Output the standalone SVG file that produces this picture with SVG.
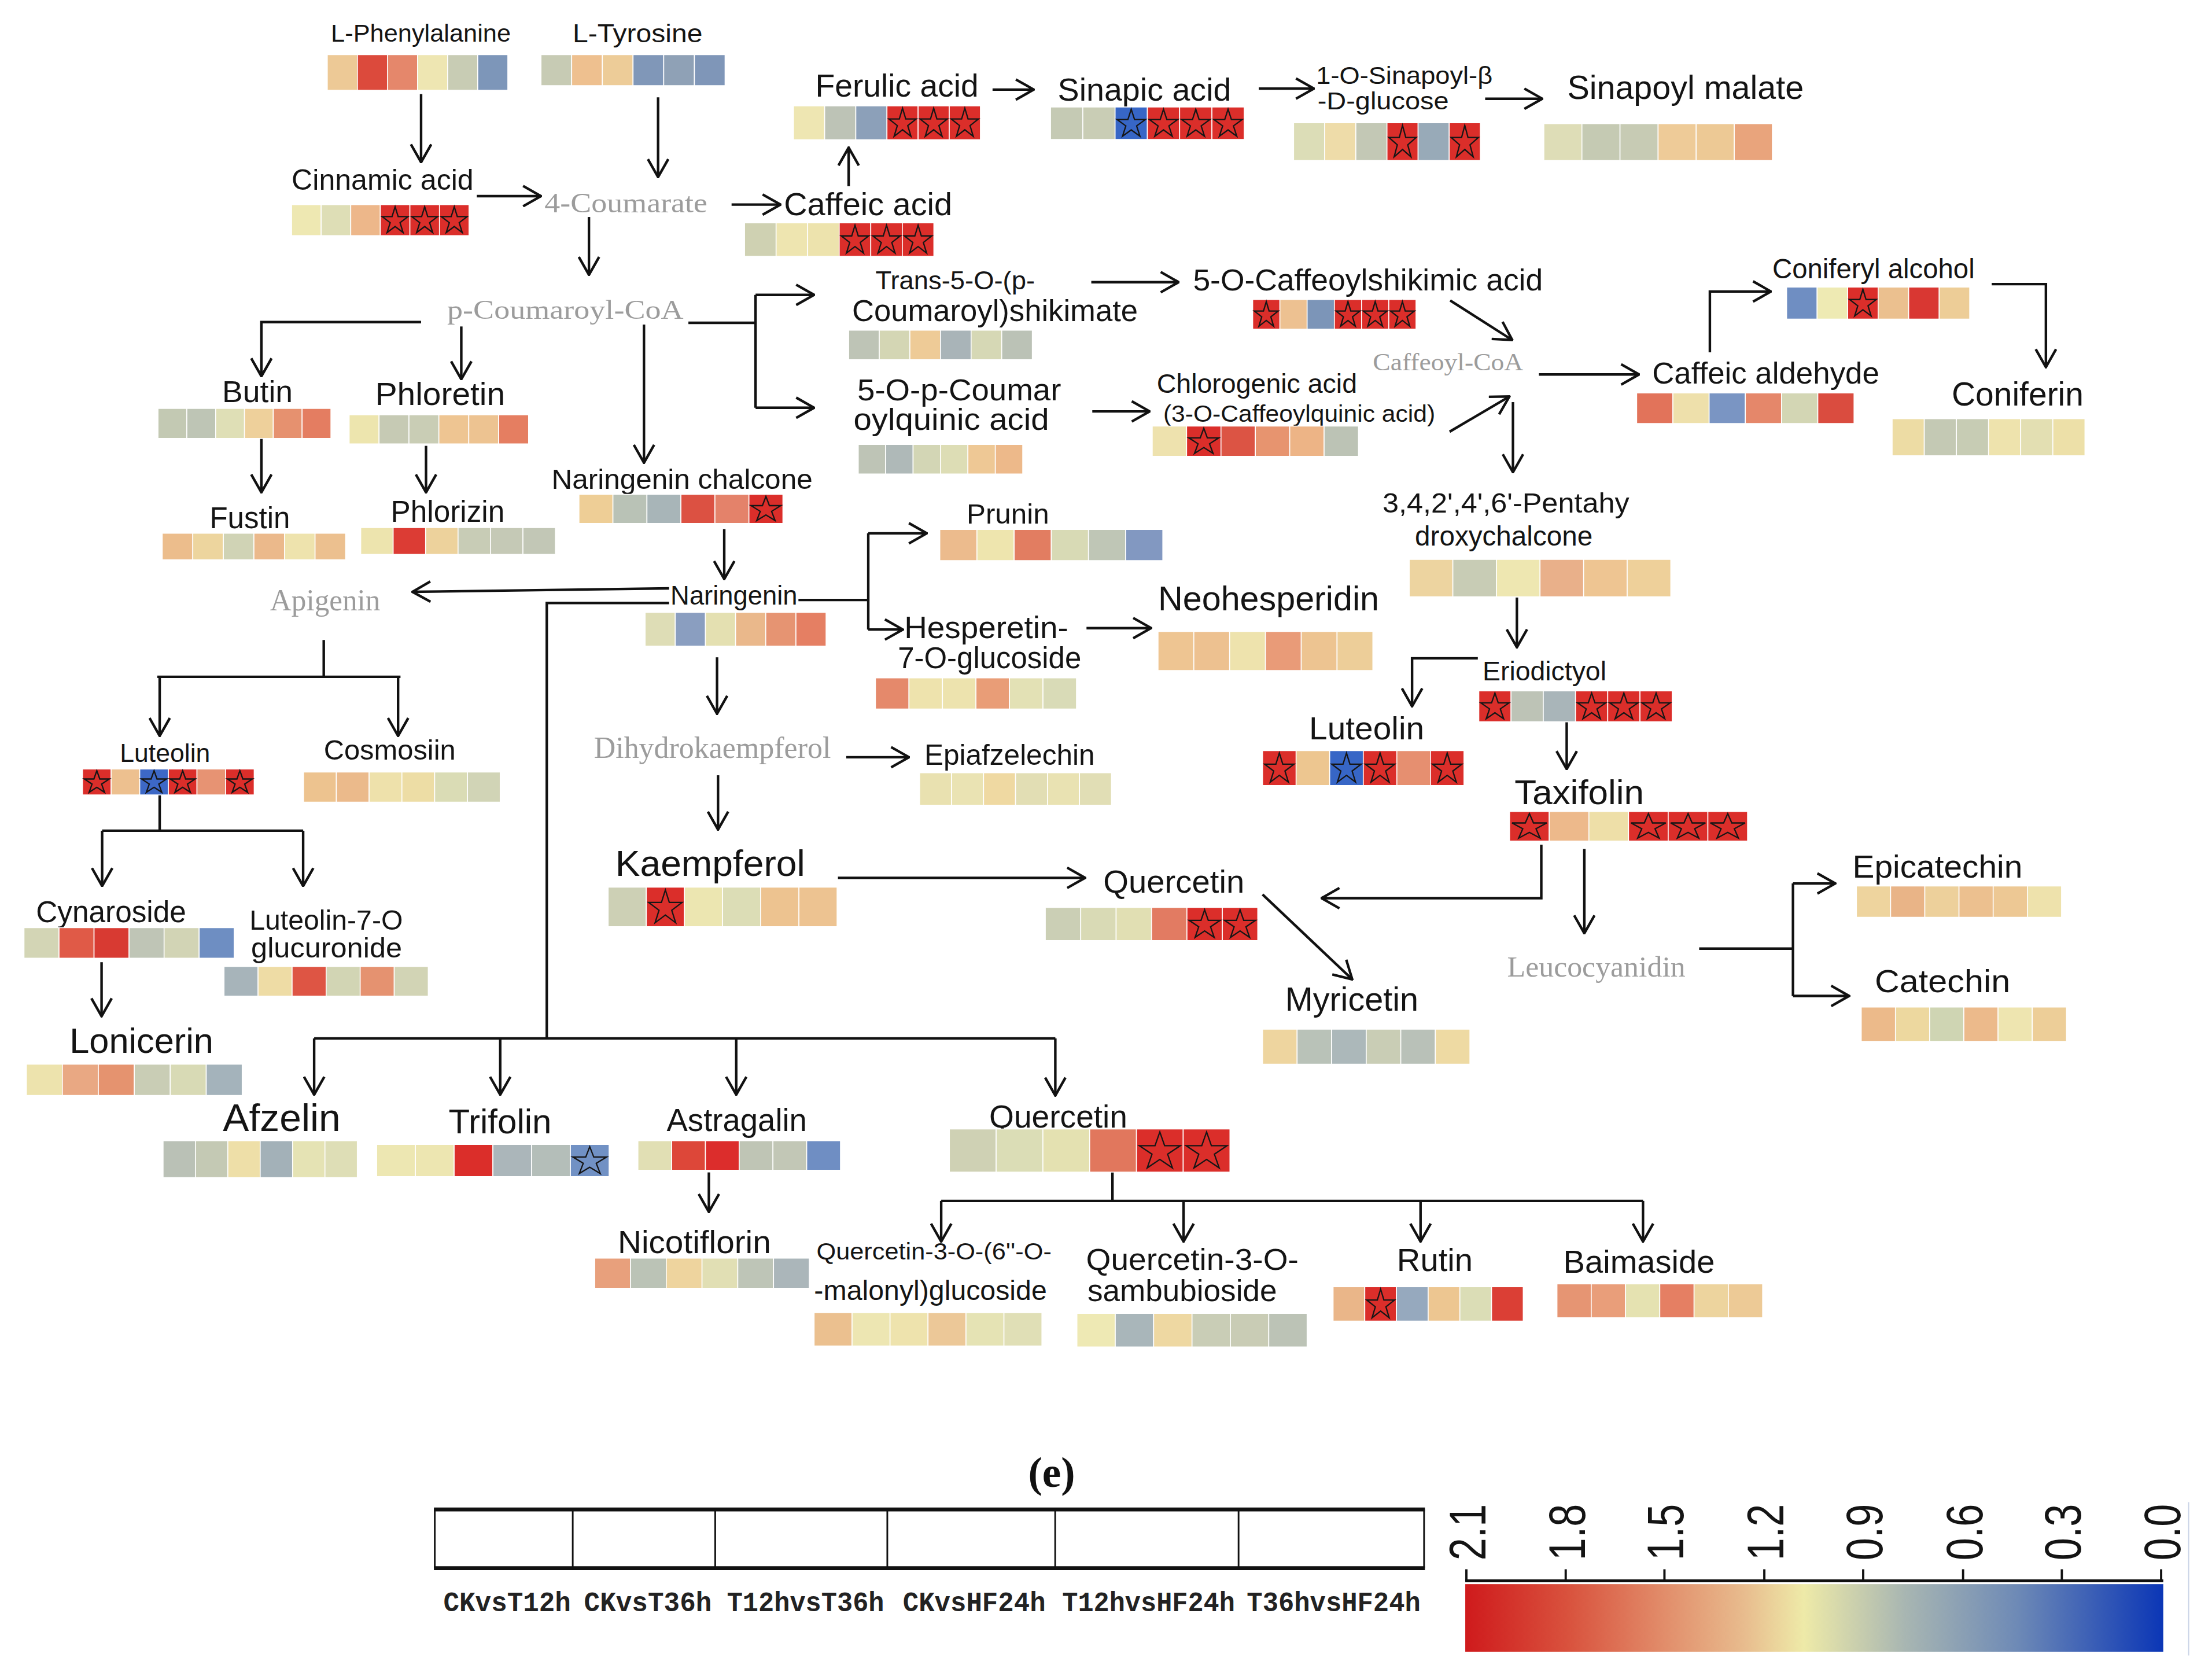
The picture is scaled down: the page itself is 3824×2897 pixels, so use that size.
<svg xmlns="http://www.w3.org/2000/svg" width="3824" height="2897" viewBox="0 0 3824 2897">
<style>
.t{font-family:"Liberation Sans",Arial,Helvetica,sans-serif;fill:#141414}
.g{font-family:"Liberation Serif","Times New Roman",serif;fill:#9c9c9c}
.m{font-family:"Liberation Mono","Courier New",monospace;font-weight:bold;fill:#222}
.hm rect{stroke:#fff;stroke-width:1.6;vector-effect:non-scaling-stroke}
</style>
<defs>
<marker id="ah" markerUnits="userSpaceOnUse" viewBox="0 0 14 16" markerWidth="14" markerHeight="16" refX="13.2" refY="8" orient="auto"><path d="M0.5,0.8 L13.2,8 L0.5,15.2" fill="none" stroke="#111" stroke-width="1.8"/></marker>
<path id="st" d="M5,0.7 L6.03,3.88 L9.37,3.88 L6.67,5.84 L7.7,9.02 L5,7.06 L2.3,9.02 L3.33,5.84 L0.63,3.88 L3.97,3.88 Z" fill="none" stroke="#161616" stroke-width="2.3" vector-effect="non-scaling-stroke"/>
<linearGradient id="cb" x1="0" y1="0" x2="1" y2="0">
<stop offset="0" stop-color="#CF1A1C"/><stop offset="0.15" stop-color="#D9533E"/><stop offset="0.29" stop-color="#E28F6C"/><stop offset="0.40" stop-color="#E8BC8E"/><stop offset="0.485" stop-color="#EEEAA8"/><stop offset="0.63" stop-color="#A8B6B2"/><stop offset="0.79" stop-color="#6E8AB6"/><stop offset="1" stop-color="#0B36B6"/>
</linearGradient>
</defs>
<rect width="3824" height="2897" fill="#fff"/>
<g transform="scale(2.4387)">

<g id="connectors" fill="none" stroke="#111" stroke-width="1.8">
<path d="M298.5,66.7 V115" marker-end="url(#ah)"/>
<path d="M466.5,69 V125.5" marker-end="url(#ah)"/>
<path d="M338,139 H383.5" marker-end="url(#ah)"/>
<path d="M417.5,153.8 V194.8" marker-end="url(#ah)"/>
<path d="M518.6,145 H553.3" marker-end="url(#ah)"/>
<path d="M601.6,132 V104.6" marker-end="url(#ah)"/>
<path d="M703.6,63.5 H732.8" marker-end="url(#ah)"/>
<path d="M892.3,62.8 H931.4" marker-end="url(#ah)"/>
<path d="M1052.8,70 H1093.3" marker-end="url(#ah)"/>
<path d="M298.5,228.3 H185.3 V266.7" marker-end="url(#ah)"/>
<path d="M327,231.4 V268.8" marker-end="url(#ah)"/>
<path d="M456.5,230 V328" marker-end="url(#ah)"/>
<path d="M488,228.8 H535.6 M535.6,209 V289"/>
<path d="M535.6,209 H577.1" marker-end="url(#ah)"/>
<path d="M535.6,289 H577.1" marker-end="url(#ah)"/>
<path d="M185.3,311 V349" marker-end="url(#ah)"/>
<path d="M302,316 V349" marker-end="url(#ah)"/>
<path d="M773.6,200 H835.5" marker-end="url(#ah)"/>
<path d="M774.3,291.6 H815" marker-end="url(#ah)"/>
<path d="M1028,213 L1072,241" marker-end="url(#ah)"/>
<path d="M1027.6,306 L1070,281" marker-end="url(#ah)"/>
<path d="M1090.9,265.4 H1161.9" marker-end="url(#ah)"/>
<path d="M1072.5,285 V334.7" marker-end="url(#ah)"/>
<path d="M1212.1,249.7 V206.6 H1255.4" marker-end="url(#ah)"/>
<path d="M1411.9,201.4 H1450.3 V260.2" marker-end="url(#ah)"/>
<path d="M513.4,375 V410.4" marker-end="url(#ah)"/>
<path d="M474.3,417 L292.4,419.5" marker-end="url(#ah)"/>
<path d="M474.3,427.4 H387.6 V736 M222.7,736 H748.1"/>
<path d="M222.7,736 V775.9" marker-end="url(#ah)"/>
<path d="M354.6,736 V775.9" marker-end="url(#ah)"/>
<path d="M521.9,736 V775.9" marker-end="url(#ah)"/>
<path d="M748.1,736 V776.5" marker-end="url(#ah)"/>
<path d="M566,425.3 H615.5 M615.5,378 V446.2"/>
<path d="M615.5,378 H657" marker-end="url(#ah)"/>
<path d="M615.5,446.2 H640" marker-end="url(#ah)"/>
<path d="M770.2,445.2 H816" marker-end="url(#ah)"/>
<path d="M508.3,465.9 V505.9" marker-end="url(#ah)"/>
<path d="M599.9,536.7 H644.4" marker-end="url(#ah)"/>
<path d="M509,549.5 V588" marker-end="url(#ah)"/>
<path d="M594,622.2 H769.2" marker-end="url(#ah)"/>
<path d="M895,634 L958.6,694.2" marker-end="url(#ah)"/>
<path d="M229.5,453.6 V479.7 M111.5,479.7 H283.9"/>
<path d="M113.2,479.7 V521.6" marker-end="url(#ah)"/>
<path d="M282.2,479.7 V521.6" marker-end="url(#ah)"/>
<path d="M113.2,563.4 V588.8 M72.4,588.8 H214.9"/>
<path d="M72.4,588.8 V628" marker-end="url(#ah)"/>
<path d="M214.9,588.8 V628" marker-end="url(#ah)"/>
<path d="M72,682 V720.3" marker-end="url(#ah)"/>
<path d="M1075.3,423.5 V458.8" marker-end="url(#ah)"/>
<path d="M1047.6,466.6 H1001 V500.6" marker-end="url(#ah)"/>
<path d="M1110.6,511.6 V545.1" marker-end="url(#ah)"/>
<path d="M1092.6,598.7 V636.6 H936.8" marker-end="url(#ah)"/>
<path d="M1123.1,601.8 V661.5" marker-end="url(#ah)"/>
<path d="M1204.5,672.4 H1271 M1271,626.2 V706"/>
<path d="M1271,626.2 H1301" marker-end="url(#ah)"/>
<path d="M1271,705.9 H1310.8" marker-end="url(#ah)"/>
<path d="M502.5,831 V859" marker-end="url(#ah)"/>
<path d="M788.6,830.8 V851.2 M667.2,851.2 H1164.7"/>
<path d="M667.2,851.2 V880" marker-end="url(#ah)"/>
<path d="M839,851.2 V880" marker-end="url(#ah)"/>
<path d="M1007,851.2 V880" marker-end="url(#ah)"/>
<path d="M1164.7,851.2 V880" marker-end="url(#ah)"/>
</g>

<g id="n-lphe"><text class="t" x="234.6" y="29.6" font-size="17.8" textLength="127.5" lengthAdjust="spacingAndGlyphs">L-Phenylalanine</text>
<g class="hm" transform="translate(232 38.7) scale(2.1333 2.53)"><rect x="0" width="10" height="10" fill="#EDC996"/><rect x="10" width="10" height="10" fill="#DC4A3C"/><rect x="20" width="10" height="10" fill="#E5876B"/><rect x="30" width="10" height="10" fill="#EEE6B2"/><rect x="40" width="10" height="10" fill="#C8CCB4"/><rect x="50" width="10" height="10" fill="#7D96B9"/></g></g>

<g id="n-ltyr"><text class="t" x="406" y="30" font-size="18.5" textLength="92" lengthAdjust="spacingAndGlyphs">L-Tyrosine</text>
<g class="hm" transform="translate(383.5 38.7) scale(2.175 2.2)"><rect x="0" width="10" height="10" fill="#C7CBB4"/><rect x="10" width="10" height="10" fill="#EEC08F"/><rect x="20" width="10" height="10" fill="#EDCC98"/><rect x="30" width="10" height="10" fill="#8097B8"/><rect x="40" width="10" height="10" fill="#8FA1B6"/><rect x="50" width="10" height="10" fill="#7F96B8"/></g></g>

<g id="n-cinnamic"><text class="t" x="206.7" y="134.7" font-size="20.5" textLength="129" lengthAdjust="spacingAndGlyphs">Cinnamic acid</text>
<g class="hm" transform="translate(206.7 145) scale(2.0967 2.2)"><rect x="0" width="10" height="10" fill="#EEE8B2"/><rect x="10" width="10" height="10" fill="#DEDEB6"/><rect x="20" width="10" height="10" fill="#EDB78A"/><rect x="30" width="10" height="10" fill="#DB2E2A"/><rect x="40" width="10" height="10" fill="#DB2E2A"/><rect x="50" width="10" height="10" fill="#DB2E2A"/><use href="#st" x="30"/><use href="#st" x="40"/><use href="#st" x="50"/></g></g>

<g id="n-4coumarate"><text class="g" x="386" y="150.4" font-size="20" textLength="115.5" lengthAdjust="spacingAndGlyphs">4-Coumarate</text></g>

<g id="n-ferulic"><text class="t" x="578" y="68.5" font-size="22.5" textLength="115.7" lengthAdjust="spacingAndGlyphs">Ferulic acid</text>
<g class="hm" transform="translate(562.5 75) scale(2.2083 2.4)"><rect x="0" width="10" height="10" fill="#EEE6B2"/><rect x="10" width="10" height="10" fill="#BDC3B6"/><rect x="20" width="10" height="10" fill="#8CA0B9"/><rect x="30" width="10" height="10" fill="#DB2E2A"/><rect x="40" width="10" height="10" fill="#DB2E2A"/><rect x="50" width="10" height="10" fill="#DB2E2A"/><use href="#st" x="30"/><use href="#st" x="40"/><use href="#st" x="50"/></g></g>

<g id="n-sinapic"><text class="t" x="749.8" y="71.4" font-size="22.5" textLength="123" lengthAdjust="spacingAndGlyphs">Sinapic acid</text>
<g class="hm" transform="translate(744.7 75.8) scale(2.2883 2.3)"><rect x="0" width="10" height="10" fill="#C5CAB4"/><rect x="10" width="10" height="10" fill="#C9CDB5"/><rect x="20" width="10" height="10" fill="#3766C6"/><rect x="30" width="10" height="10" fill="#DB2E2A"/><rect x="40" width="10" height="10" fill="#DB2E2A"/><rect x="50" width="10" height="10" fill="#DB2E2A"/><use href="#st" x="20"/><use href="#st" x="30"/><use href="#st" x="40"/><use href="#st" x="50"/></g></g>

<g id="n-sinapoylglucose"><text class="t" x="933" y="59.5" font-size="17.5" textLength="125" lengthAdjust="spacingAndGlyphs">1-O-Sinapoyl-β</text><text class="t" x="934" y="77.5" font-size="17.5" textLength="93" lengthAdjust="spacingAndGlyphs">-D-glucose</text>
<g class="hm" transform="translate(917 87) scale(2.2067 2.68)"><rect x="0" width="10" height="10" fill="#DCDDB7"/><rect x="10" width="10" height="10" fill="#EEDCA9"/><rect x="20" width="10" height="10" fill="#C3C8B5"/><rect x="30" width="10" height="10" fill="#DB2E2A"/><rect x="40" width="10" height="10" fill="#98AAB8"/><rect x="50" width="10" height="10" fill="#DB2E2A"/><use href="#st" x="30"/><use href="#st" x="50"/></g></g>

<g id="n-sinapoylmalate"><text class="t" x="1111" y="70" font-size="23.5" textLength="167.6" lengthAdjust="spacingAndGlyphs">Sinapoyl malate</text>
<g class="hm" transform="translate(1094.4 87.6) scale(2.7 2.62)"><rect x="0" width="10" height="10" fill="#DEDDB7"/><rect x="10" width="10" height="10" fill="#C5CAB3"/><rect x="20" width="10" height="10" fill="#C7CBB4"/><rect x="30" width="10" height="10" fill="#EECB98"/><rect x="40" width="10" height="10" fill="#EDC995"/><rect x="50" width="10" height="10" fill="#E9A47C"/></g></g>

<g id="n-caffeic"><text class="t" x="555.7" y="152.6" font-size="22.5" textLength="119.3" lengthAdjust="spacingAndGlyphs">Caffeic acid</text>
<g class="hm" transform="translate(527.8 158) scale(2.2367 2.37)"><rect x="0" width="10" height="10" fill="#CFD1B2"/><rect x="10" width="10" height="10" fill="#EEE5B0"/><rect x="20" width="10" height="10" fill="#EDE3AD"/><rect x="30" width="10" height="10" fill="#DB2E2A"/><rect x="40" width="10" height="10" fill="#DB2E2A"/><rect x="50" width="10" height="10" fill="#DB2E2A"/><use href="#st" x="30"/><use href="#st" x="40"/><use href="#st" x="50"/></g></g>

<g id="n-pcoumaroylcoa"><text class="g" x="317" y="226" font-size="19" textLength="167.5" lengthAdjust="spacingAndGlyphs">p-Coumaroyl-CoA</text></g>

<g id="n-trans5o"><text class="t" x="620.6" y="205" font-size="18.5" textLength="113" lengthAdjust="spacingAndGlyphs">Trans-5-O-(p-</text><text class="t" x="604" y="227.5" font-size="21" textLength="202.6" lengthAdjust="spacingAndGlyphs">Coumaroyl)shikimate</text>
<g class="hm" transform="translate(601.6 234) scale(2.17 2.1)"><rect x="0" width="10" height="10" fill="#BEC4B6"/><rect x="10" width="10" height="10" fill="#D4D6B4"/><rect x="20" width="10" height="10" fill="#EECB97"/><rect x="30" width="10" height="10" fill="#A9B4B8"/><rect x="40" width="10" height="10" fill="#D6D8B5"/><rect x="50" width="10" height="10" fill="#BBC2B6"/></g></g>

<g id="n-5opcoumaroylquinic"><text class="t" x="607.7" y="283.7" font-size="21" textLength="144.5" lengthAdjust="spacingAndGlyphs">5-O-p-Coumar</text><text class="t" x="605" y="304.6" font-size="21" textLength="138.7" lengthAdjust="spacingAndGlyphs">oylquinic acid</text>
<g class="hm" transform="translate(608.4 315) scale(1.9433 2.1)"><rect x="0" width="10" height="10" fill="#BEC4B6"/><rect x="10" width="10" height="10" fill="#AFB9B8"/><rect x="20" width="10" height="10" fill="#D3D6B5"/><rect x="30" width="10" height="10" fill="#DDDDB5"/><rect x="40" width="10" height="10" fill="#EEC895"/><rect x="50" width="10" height="10" fill="#EDB98A"/></g></g>

<g id="n-5ocaffeoylshikimic"><text class="t" x="845.7" y="206" font-size="21" textLength="248" lengthAdjust="spacingAndGlyphs">5-O-Caffeoylshikimic acid</text>
<g class="hm" transform="translate(888 212.3) scale(1.93 2.1)"><rect x="0" width="10" height="10" fill="#DB2E2A"/><rect x="10" width="10" height="10" fill="#EDC191"/><rect x="20" width="10" height="10" fill="#7C95B8"/><rect x="30" width="10" height="10" fill="#DB2E2A"/><rect x="40" width="10" height="10" fill="#DB2E2A"/><rect x="50" width="10" height="10" fill="#DB2E2A"/><use href="#st" x="0"/><use href="#st" x="30"/><use href="#st" x="40"/><use href="#st" x="50"/></g></g>

<g id="n-chlorogenic"><text class="t" x="820" y="278.5" font-size="19" textLength="142" lengthAdjust="spacingAndGlyphs">Chlorogenic acid</text><text class="t" x="824.6" y="299" font-size="16.5" textLength="192.8" lengthAdjust="spacingAndGlyphs">(3-O-Caffeoylquinic acid)</text>
<g class="hm" transform="translate(816.8 302) scale(2.4367 2.15)"><rect x="0" width="10" height="10" fill="#EEE2AE"/><rect x="10" width="10" height="10" fill="#DB2E2A"/><rect x="20" width="10" height="10" fill="#DC5444"/><rect x="30" width="10" height="10" fill="#E7946F"/><rect x="40" width="10" height="10" fill="#EDB486"/><rect x="50" width="10" height="10" fill="#BCC3B5"/><use href="#st" x="10"/></g></g>

<g id="n-caffeoylcoa"><text class="g" x="973.2" y="262.5" font-size="17" textLength="106.6" lengthAdjust="spacingAndGlyphs" fill="#a8a8a8">Caffeoyl-CoA</text></g>

<g id="n-caffeicaldehyde"><text class="t" x="1171.2" y="271.9" font-size="21.5" textLength="161" lengthAdjust="spacingAndGlyphs">Caffeic aldehyde</text>
<g class="hm" transform="translate(1160.2 278.5) scale(2.5683 2.17)"><rect x="0" width="10" height="10" fill="#E2735A"/><rect x="10" width="10" height="10" fill="#EEE0AB"/><rect x="20" width="10" height="10" fill="#7A95C3"/><rect x="30" width="10" height="10" fill="#E5876A"/><rect x="40" width="10" height="10" fill="#D3D6B4"/><rect x="50" width="10" height="10" fill="#DA4C3F"/></g></g>

<g id="n-coniferylalcohol"><text class="t" x="1256.4" y="197.4" font-size="19.4" textLength="143.4" lengthAdjust="spacingAndGlyphs">Coniferyl alcohol</text>
<g class="hm" transform="translate(1266.5 203.5) scale(2.1633 2.27)"><rect x="0" width="10" height="10" fill="#6F8EC2"/><rect x="10" width="10" height="10" fill="#EEEAB3"/><rect x="20" width="10" height="10" fill="#DB2E2A"/><rect x="30" width="10" height="10" fill="#EBC08F"/><rect x="40" width="10" height="10" fill="#D93732"/><rect x="50" width="10" height="10" fill="#EDCD97"/><use href="#st" x="20"/></g></g>

<g id="n-coniferin"><text class="t" x="1383.5" y="287.6" font-size="23.4" textLength="93.5" lengthAdjust="spacingAndGlyphs">Coniferin</text>
<g class="hm" transform="translate(1341.3 296.8) scale(2.2783 2.62)"><rect x="0" width="10" height="10" fill="#EDDCA4"/><rect x="10" width="10" height="10" fill="#C4C9B4"/><rect x="20" width="10" height="10" fill="#C7CCB4"/><rect x="30" width="10" height="10" fill="#EEE3AD"/><rect x="40" width="10" height="10" fill="#E3DFB2"/><rect x="50" width="10" height="10" fill="#EDE0A8"/></g></g>

<g id="n-pentahydroxychalcone"><text class="t" x="980" y="363.5" font-size="19.5" textLength="175" lengthAdjust="spacingAndGlyphs">3,4,2',4',6'-Pentahy</text><text class="t" x="1003" y="386.5" font-size="19.5" textLength="126" lengthAdjust="spacingAndGlyphs">droxychalcone</text>
<g class="hm" transform="translate(999 396.5) scale(3.09 2.65)"><rect x="0" width="10" height="10" fill="#EDD4A0"/><rect x="10" width="10" height="10" fill="#C8CCB5"/><rect x="20" width="10" height="10" fill="#EEE7B1"/><rect x="30" width="10" height="10" fill="#E9B08A"/><rect x="40" width="10" height="10" fill="#EEC592"/><rect x="50" width="10" height="10" fill="#EED09A"/></g></g>

<g id="n-eriodictyol"><text class="t" x="1051" y="482.3" font-size="19" textLength="87.7" lengthAdjust="spacingAndGlyphs">Eriodictyol</text>
<g class="hm" transform="translate(1048.3 489.7) scale(2.285 2.19)"><rect x="0" width="10" height="10" fill="#DB2E2A"/><rect x="10" width="10" height="10" fill="#BDC3B6"/><rect x="20" width="10" height="10" fill="#A9B5B9"/><rect x="30" width="10" height="10" fill="#DB2E2A"/><rect x="40" width="10" height="10" fill="#DB2E2A"/><rect x="50" width="10" height="10" fill="#DB2E2A"/><use href="#st" x="0"/><use href="#st" x="30"/><use href="#st" x="40"/><use href="#st" x="50"/></g></g>

<g id="n-luteolin2"><text class="t" x="928" y="524" font-size="23" textLength="81.6" lengthAdjust="spacingAndGlyphs">Luteolin</text>
<g class="hm" transform="translate(895 532) scale(2.38 2.48)"><rect x="0" width="10" height="10" fill="#DB2E2A"/><rect x="10" width="10" height="10" fill="#EDC690"/><rect x="20" width="10" height="10" fill="#3766C6"/><rect x="30" width="10" height="10" fill="#DB2E2A"/><rect x="40" width="10" height="10" fill="#E68F70"/><rect x="50" width="10" height="10" fill="#DB2E2A"/><use href="#st" x="0"/><use href="#st" x="20"/><use href="#st" x="30"/><use href="#st" x="50"/></g></g>

<g id="n-taxifolin"><text class="t" x="1073.6" y="569.9" font-size="24.5" textLength="91.8" lengthAdjust="spacingAndGlyphs">Taxifolin</text>
<g class="hm" transform="translate(1070.1 575.2) scale(2.8117 2.09)"><rect x="0" width="10" height="10" fill="#DB2E2A"/><rect x="10" width="10" height="10" fill="#EDB98B"/><rect x="20" width="10" height="10" fill="#EEDFA8"/><rect x="30" width="10" height="10" fill="#DB2E2A"/><rect x="40" width="10" height="10" fill="#DB2E2A"/><rect x="50" width="10" height="10" fill="#DB2E2A"/><use href="#st" x="0"/><use href="#st" x="30"/><use href="#st" x="40"/><use href="#st" x="50"/></g></g>

<g id="n-leucocyanidin"><text class="g" x="1068.4" y="692" font-size="21" textLength="126.4" lengthAdjust="spacingAndGlyphs">Leucocyanidin</text></g>

<g id="n-epicatechin"><text class="t" x="1313.2" y="622.2" font-size="23" textLength="120.5" lengthAdjust="spacingAndGlyphs">Epicatechin</text>
<g class="hm" transform="translate(1316 628) scale(2.4233 2.22)"><rect x="0" width="10" height="10" fill="#EED49E"/><rect x="10" width="10" height="10" fill="#E9B487"/><rect x="20" width="10" height="10" fill="#EDD09B"/><rect x="30" width="10" height="10" fill="#ECC08F"/><rect x="40" width="10" height="10" fill="#EDC894"/><rect x="50" width="10" height="10" fill="#EEE2AC"/></g></g>

<g id="n-catechin"><text class="t" x="1329" y="703.3" font-size="23" textLength="96" lengthAdjust="spacingAndGlyphs">Catechin</text>
<g class="hm" transform="translate(1319.4 713.8) scale(2.425 2.43)"><rect x="0" width="10" height="10" fill="#ECBA8A"/><rect x="10" width="10" height="10" fill="#EDD89F"/><rect x="20" width="10" height="10" fill="#CFD5B3"/><rect x="30" width="10" height="10" fill="#ECBA8B"/><rect x="40" width="10" height="10" fill="#EEE5B0"/><rect x="50" width="10" height="10" fill="#EDCE98"/></g></g>

<g id="n-butin"><text class="t" x="157.5" y="285" font-size="21.5" textLength="50" lengthAdjust="spacingAndGlyphs">Butin</text>
<g class="hm" transform="translate(112 289.5) scale(2.0433 2.12)"><rect x="0" width="10" height="10" fill="#C3C9B3"/><rect x="10" width="10" height="10" fill="#BEC5B5"/><rect x="20" width="10" height="10" fill="#DFDFB6"/><rect x="30" width="10" height="10" fill="#EED09B"/><rect x="40" width="10" height="10" fill="#E6916F"/><rect x="50" width="10" height="10" fill="#E47D61"/></g></g>

<g id="n-fustin"><text class="t" x="148.6" y="374.5" font-size="21" textLength="57" lengthAdjust="spacingAndGlyphs">Fustin</text>
<g class="hm" transform="translate(115 377.9) scale(2.1667 1.88)"><rect x="0" width="10" height="10" fill="#ECBD8C"/><rect x="10" width="10" height="10" fill="#EDD59E"/><rect x="20" width="10" height="10" fill="#D0D3B5"/><rect x="30" width="10" height="10" fill="#EBB98B"/><rect x="40" width="10" height="10" fill="#EEE3AD"/><rect x="50" width="10" height="10" fill="#ECC08F"/></g></g>

<g id="n-phloretin"><text class="t" x="266" y="287" font-size="23" textLength="92" lengthAdjust="spacingAndGlyphs">Phloretin</text>
<g class="hm" transform="translate(247.5 294) scale(2.12 2.06)"><rect x="0" width="10" height="10" fill="#EDE5AE"/><rect x="10" width="10" height="10" fill="#C6CAB4"/><rect x="20" width="10" height="10" fill="#C9CDB5"/><rect x="30" width="10" height="10" fill="#EEC592"/><rect x="40" width="10" height="10" fill="#EDC391"/><rect x="50" width="10" height="10" fill="#E57E61"/></g></g>

<g id="n-phlorizin"><text class="t" x="277" y="370" font-size="21" textLength="80.7" lengthAdjust="spacingAndGlyphs">Phlorizin</text>
<g class="hm" transform="translate(255.7 374) scale(2.3 1.9)"><rect x="0" width="10" height="10" fill="#EDE4AE"/><rect x="10" width="10" height="10" fill="#DC3C34"/><rect x="20" width="10" height="10" fill="#EDD29C"/><rect x="30" width="10" height="10" fill="#C8CCB6"/><rect x="40" width="10" height="10" fill="#C5C9B6"/><rect x="50" width="10" height="10" fill="#C2C7B6"/></g></g>

<g id="n-naringeninchalcone"><text class="t" x="391" y="346.5" font-size="20" textLength="185" lengthAdjust="spacingAndGlyphs">Naringenin chalcone</text>
<g class="hm" transform="translate(410.4 350.4) scale(2.41 2.06)"><rect x="0" width="10" height="10" fill="#EECE96"/><rect x="10" width="10" height="10" fill="#B9C2B6"/><rect x="20" width="10" height="10" fill="#A8B5B8"/><rect x="30" width="10" height="10" fill="#DC5142"/><rect x="40" width="10" height="10" fill="#E4826A"/><rect x="50" width="10" height="10" fill="#DB2E2A"/><use href="#st" x="50"/></g></g>

<g id="n-naringenin"><text class="t" x="475.3" y="428.7" font-size="18.6" textLength="90" lengthAdjust="spacingAndGlyphs">Naringenin</text>
<g class="hm" transform="translate(457.3 434) scale(2.1383 2.4)"><rect x="0" width="10" height="10" fill="#DEDDB6"/><rect x="10" width="10" height="10" fill="#8A9EC0"/><rect x="20" width="10" height="10" fill="#E4E0B1"/><rect x="30" width="10" height="10" fill="#EAB88B"/><rect x="40" width="10" height="10" fill="#E69472"/><rect x="50" width="10" height="10" fill="#E57F63"/></g></g>

<g id="n-prunin"><text class="t" x="685.2" y="371" font-size="20" textLength="58.5" lengthAdjust="spacingAndGlyphs">Prunin</text>
<g class="hm" transform="translate(666.2 375.3) scale(2.635 2.21)"><rect x="0" width="10" height="10" fill="#ECBB8D"/><rect x="10" width="10" height="10" fill="#EEE5AE"/><rect x="20" width="10" height="10" fill="#E27D61"/><rect x="30" width="10" height="10" fill="#D8DAB5"/><rect x="40" width="10" height="10" fill="#BFC6B6"/><rect x="50" width="10" height="10" fill="#8298C1"/></g></g>

<g id="n-hesperetin"><text class="t" x="641" y="452.3" font-size="22" textLength="116.3" lengthAdjust="spacingAndGlyphs">Hesperetin-</text><text class="t" x="636.5" y="473.5" font-size="21.5" textLength="130" lengthAdjust="spacingAndGlyphs">7-O-glucoside</text>
<g class="hm" transform="translate(620.6 480.5) scale(2.375 2.2)"><rect x="0" width="10" height="10" fill="#E5896B"/><rect x="10" width="10" height="10" fill="#EEE3AD"/><rect x="20" width="10" height="10" fill="#EDE3AE"/><rect x="30" width="10" height="10" fill="#E99D77"/><rect x="40" width="10" height="10" fill="#E3E1B5"/><rect x="50" width="10" height="10" fill="#D9DBB7"/></g></g>

<g id="n-neohesperidin"><text class="t" x="820.9" y="432.6" font-size="24" textLength="156.7" lengthAdjust="spacingAndGlyphs">Neohesperidin</text>
<g class="hm" transform="translate(820.9 447.6) scale(2.5383 2.77)"><rect x="0" width="10" height="10" fill="#EEC592"/><rect x="10" width="10" height="10" fill="#EDC190"/><rect x="20" width="10" height="10" fill="#EEE3AD"/><rect x="30" width="10" height="10" fill="#E99B78"/><rect x="40" width="10" height="10" fill="#EDC491"/><rect x="50" width="10" height="10" fill="#EDCE99"/></g></g>

<g id="n-apigenin"><text class="g" x="191.4" y="432.6" font-size="22" textLength="78.2" lengthAdjust="spacingAndGlyphs">Apigenin</text></g>

<g id="n-dihydrokaempferol"><text class="g" x="421" y="537.3" font-size="21.5" textLength="168" lengthAdjust="spacingAndGlyphs">Dihydrokaempferol</text></g>

<g id="n-epiafzelechin"><text class="t" x="655.3" y="542" font-size="20.3" textLength="120.7" lengthAdjust="spacingAndGlyphs">Epiafzelechin</text>
<g class="hm" transform="translate(651.9 547.7) scale(2.2667 2.3)"><rect x="0" width="10" height="10" fill="#E9E1B0"/><rect x="10" width="10" height="10" fill="#EAE3B3"/><rect x="20" width="10" height="10" fill="#EFD9A2"/><rect x="30" width="10" height="10" fill="#E2DEB4"/><rect x="40" width="10" height="10" fill="#E9E2B2"/><rect x="50" width="10" height="10" fill="#E1DEB5"/></g></g>

<g id="n-kaempferol"><text class="t" x="436.2" y="621" font-size="26" textLength="134.5" lengthAdjust="spacingAndGlyphs">Kaempferol</text>
<g class="hm" transform="translate(431.1 628.8) scale(2.705 2.8)"><rect x="0" width="10" height="10" fill="#CDD0B5"/><rect x="10" width="10" height="10" fill="#DB2E2A"/><rect x="20" width="10" height="10" fill="#ECE6B1"/><rect x="30" width="10" height="10" fill="#DCDDB6"/><rect x="40" width="10" height="10" fill="#EDC390"/><rect x="50" width="10" height="10" fill="#EDC391"/><use href="#st" x="10"/></g></g>

<g id="n-quercetin1"><text class="t" x="782.1" y="632.7" font-size="23" textLength="100" lengthAdjust="spacingAndGlyphs">Quercetin</text>
<g class="hm" transform="translate(741 643.2) scale(2.51 2.35)"><rect x="0" width="10" height="10" fill="#CBCFB5"/><rect x="10" width="10" height="10" fill="#D9DAB5"/><rect x="20" width="10" height="10" fill="#E1DFB3"/><rect x="30" width="10" height="10" fill="#E27B62"/><rect x="40" width="10" height="10" fill="#DB2E2A"/><rect x="50" width="10" height="10" fill="#DB2E2A"/><use href="#st" x="40"/><use href="#st" x="50"/></g></g>

<g id="n-myricetin"><text class="t" x="911" y="716.4" font-size="23.5" textLength="94.5" lengthAdjust="spacingAndGlyphs">Myricetin</text>
<g class="hm" transform="translate(895 729.5) scale(2.45 2.48)"><rect x="0" width="10" height="10" fill="#EED59F"/><rect x="10" width="10" height="10" fill="#B9C2B8"/><rect x="20" width="10" height="10" fill="#ACB8BA"/><rect x="30" width="10" height="10" fill="#C9CDB5"/><rect x="40" width="10" height="10" fill="#B9C1B8"/><rect x="50" width="10" height="10" fill="#EEDAA3"/></g></g>

<g id="n-luteolin1"><text class="t" x="85" y="539.9" font-size="18.3" textLength="64" lengthAdjust="spacingAndGlyphs">Luteolin</text>
<g class="hm" transform="translate(58.5 545) scale(2.0283 1.84)"><rect x="0" width="10" height="10" fill="#DB2E2A"/><rect x="10" width="10" height="10" fill="#EDC08F"/><rect x="20" width="10" height="10" fill="#3D68C6"/><rect x="30" width="10" height="10" fill="#DB2E2A"/><rect x="40" width="10" height="10" fill="#E79373"/><rect x="50" width="10" height="10" fill="#DB2E2A"/><use href="#st" x="0"/><use href="#st" x="20"/><use href="#st" x="30"/><use href="#st" x="50"/></g></g>

<g id="n-cosmosiin"><text class="t" x="229.5" y="538.6" font-size="20" textLength="93.5" lengthAdjust="spacingAndGlyphs">Cosmosiin</text>
<g class="hm" transform="translate(215.2 547.2) scale(2.3233 2.14)"><rect x="0" width="10" height="10" fill="#EDC38F"/><rect x="10" width="10" height="10" fill="#EBBA8B"/><rect x="20" width="10" height="10" fill="#EEE1AB"/><rect x="30" width="10" height="10" fill="#EDDDA5"/><rect x="40" width="10" height="10" fill="#DADCB5"/><rect x="50" width="10" height="10" fill="#D1D4B6"/></g></g>

<g id="n-cynaroside"><text class="t" x="25.5" y="653.6" font-size="21" textLength="106.5" lengthAdjust="spacingAndGlyphs">Cynaroside</text>
<g class="hm" transform="translate(17 657.5) scale(2.4833 2.17)"><rect x="0" width="10" height="10" fill="#D3D5B5"/><rect x="10" width="10" height="10" fill="#E05A47"/><rect x="20" width="10" height="10" fill="#D83A32"/><rect x="30" width="10" height="10" fill="#BFC5B6"/><rect x="40" width="10" height="10" fill="#D2D4B5"/><rect x="50" width="10" height="10" fill="#6E8EC2"/></g></g>

<g id="n-luteolin7oglucuronide"><text class="t" x="176.8" y="658.9" font-size="20" textLength="108.8" lengthAdjust="spacingAndGlyphs">Luteolin-7-O</text><text class="t" x="178" y="678.5" font-size="20" textLength="107" lengthAdjust="spacingAndGlyphs">glucuronide</text>
<g class="hm" transform="translate(158.8 685) scale(2.4133 2.1)"><rect x="0" width="10" height="10" fill="#A7B4BA"/><rect x="10" width="10" height="10" fill="#EEDCA5"/><rect x="20" width="10" height="10" fill="#DE5544"/><rect x="30" width="10" height="10" fill="#D2D5B4"/><rect x="40" width="10" height="10" fill="#E59270"/><rect x="50" width="10" height="10" fill="#D2D4B5"/></g></g>

<g id="n-lonicerin"><text class="t" x="49.3" y="746.5" font-size="25" textLength="102" lengthAdjust="spacingAndGlyphs">Lonicerin</text>
<g class="hm" transform="translate(18.7 754.3) scale(2.55 2.22)"><rect x="0" width="10" height="10" fill="#EDE3AD"/><rect x="10" width="10" height="10" fill="#E9A883"/><rect x="20" width="10" height="10" fill="#E5936F"/><rect x="30" width="10" height="10" fill="#C9CDB5"/><rect x="40" width="10" height="10" fill="#D8DAB5"/><rect x="50" width="10" height="10" fill="#A4B3BB"/></g></g>

<g id="n-afzelin"><text class="t" x="158" y="801.7" font-size="27" textLength="83.4" lengthAdjust="spacingAndGlyphs">Afzelin</text>
<g class="hm" transform="translate(115.6 808.5) scale(2.295 2.62)"><rect x="0" width="10" height="10" fill="#BAC1B6"/><rect x="10" width="10" height="10" fill="#C4C9B4"/><rect x="20" width="10" height="10" fill="#EEDFA8"/><rect x="30" width="10" height="10" fill="#A3B1B8"/><rect x="40" width="10" height="10" fill="#E5E3B4"/><rect x="50" width="10" height="10" fill="#DEDEB6"/></g></g>

<g id="n-trifolin"><text class="t" x="318" y="803.5" font-size="24.3" textLength="73" lengthAdjust="spacingAndGlyphs">Trifolin</text>
<g class="hm" transform="translate(267 811.2) scale(2.7467 2.28)"><rect x="0" width="10" height="10" fill="#EDE7B2"/><rect x="10" width="10" height="10" fill="#EDE6B1"/><rect x="20" width="10" height="10" fill="#DB2E2A"/><rect x="30" width="10" height="10" fill="#ABB6BA"/><rect x="40" width="10" height="10" fill="#B4BEB9"/><rect x="50" width="10" height="10" fill="#7191C4"/><use href="#st" x="50"/></g></g>

<g id="n-astragalin"><text class="t" x="472.6" y="801.7" font-size="22.4" textLength="99.4" lengthAdjust="spacingAndGlyphs">Astragalin</text>
<g class="hm" transform="translate(452.2 808.5) scale(2.3933 2.1)"><rect x="0" width="10" height="10" fill="#E1DFB4"/><rect x="10" width="10" height="10" fill="#DD4739"/><rect x="20" width="10" height="10" fill="#DC2D2C"/><rect x="30" width="10" height="10" fill="#BFC5B5"/><rect x="40" width="10" height="10" fill="#C2C7B6"/><rect x="50" width="10" height="10" fill="#6F8EC3"/></g></g>

<g id="n-nicotiflorin"><text class="t" x="437.9" y="888" font-size="23" textLength="108.6" lengthAdjust="spacingAndGlyphs">Nicotiflorin</text>
<g class="hm" transform="translate(421.6 891.7) scale(2.535 2.14)"><rect x="0" width="10" height="10" fill="#E8A07C"/><rect x="10" width="10" height="10" fill="#BBC3B6"/><rect x="20" width="10" height="10" fill="#EED49E"/><rect x="30" width="10" height="10" fill="#E1DFB4"/><rect x="40" width="10" height="10" fill="#BEC5B7"/><rect x="50" width="10" height="10" fill="#ABB6BA"/></g></g>

<g id="n-quercetin2"><text class="t" x="701.2" y="799.4" font-size="23" textLength="98" lengthAdjust="spacingAndGlyphs">Quercetin</text>
<g class="hm" transform="translate(673 800.2) scale(3.315 3.06)"><rect x="0" width="10" height="10" fill="#CFD1B4"/><rect x="10" width="10" height="10" fill="#DBDDB6"/><rect x="20" width="10" height="10" fill="#E4E1B1"/><rect x="30" width="10" height="10" fill="#E1775D"/><rect x="40" width="10" height="10" fill="#DB2E2A"/><rect x="50" width="10" height="10" fill="#DB2E2A"/><use href="#st" x="40"/><use href="#st" x="50"/></g></g>

<g id="n-q3omalonylglucoside"><text class="t" x="578.8" y="892.5" font-size="17" textLength="166.6" lengthAdjust="spacingAndGlyphs">Quercetin-3-O-(6''-O-</text><text class="t" x="577.1" y="921.5" font-size="19.5" textLength="165" lengthAdjust="spacingAndGlyphs">-malonyl)glucoside</text>
<g class="hm" transform="translate(577.1 930.4) scale(2.6917 2.36)"><rect x="0" width="10" height="10" fill="#EBC08F"/><rect x="10" width="10" height="10" fill="#EDE6B2"/><rect x="20" width="10" height="10" fill="#EEE3AD"/><rect x="30" width="10" height="10" fill="#ECC898"/><rect x="40" width="10" height="10" fill="#E5E3B4"/><rect x="50" width="10" height="10" fill="#E0DFB6"/></g></g>

<g id="n-q3osambubioside"><text class="t" x="769.9" y="900" font-size="21.5" textLength="150.6" lengthAdjust="spacingAndGlyphs">Quercetin-3-O-</text><text class="t" x="770.9" y="922.3" font-size="21" textLength="134.3" lengthAdjust="spacingAndGlyphs">sambubioside</text>
<g class="hm" transform="translate(763.4 930.9) scale(2.72 2.38)"><rect x="0" width="10" height="10" fill="#EEE9B4"/><rect x="10" width="10" height="10" fill="#A9B6BA"/><rect x="20" width="10" height="10" fill="#EED8A2"/><rect x="30" width="10" height="10" fill="#C9CDB6"/><rect x="40" width="10" height="10" fill="#C9CCB5"/><rect x="50" width="10" height="10" fill="#BCC3B6"/></g></g>

<g id="n-rutin"><text class="t" x="990.2" y="901" font-size="23" textLength="53.8" lengthAdjust="spacingAndGlyphs">Rutin</text>
<g class="hm" transform="translate(945 912) scale(2.2467 2.44)"><rect x="0" width="10" height="10" fill="#EAB689"/><rect x="10" width="10" height="10" fill="#DB2E2A"/><rect x="20" width="10" height="10" fill="#96A9BE"/><rect x="30" width="10" height="10" fill="#EDC691"/><rect x="40" width="10" height="10" fill="#DBDDB6"/><rect x="50" width="10" height="10" fill="#DB3F35"/><use href="#st" x="10"/></g></g>

<g id="n-baimaside"><text class="t" x="1108.2" y="902" font-size="23" textLength="107.4" lengthAdjust="spacingAndGlyphs">Baimaside</text>
<g class="hm" transform="translate(1103.7 910) scale(2.43 2.4)"><rect x="0" width="10" height="10" fill="#E69573"/><rect x="10" width="10" height="10" fill="#E99E7A"/><rect x="20" width="10" height="10" fill="#E5E2B1"/><rect x="30" width="10" height="10" fill="#E57F63"/><rect x="40" width="10" height="10" fill="#EDD49E"/><rect x="50" width="10" height="10" fill="#EDCA96"/></g></g>

<g id="legend">
<text x="745.5" y="1054" text-anchor="middle" font-family="Liberation Serif,Times New Roman,serif" font-weight="bold" font-size="30" fill="#111">(e)</text>
<g fill="none" stroke="#111">
<path d="M308.2,1069.9 V1111.5 M1009.5,1069.9 V1111.5 M406,1069.9 V1111.5 M507,1069.9 V1111.5 M629,1069.9 V1111.5 M748,1069.9 V1111.5 M878,1069.9 V1111.5" stroke-width="1.2"/>
<path d="M307.6,1069.9 H1010.1 M307.6,1111.5 H1010.1" stroke-width="2.8"/>
</g>
<text class="m" x="314.3" y="1142" font-size="20" textLength="90.4" lengthAdjust="spacingAndGlyphs">CKvsT12h</text>
<text class="m" x="414" y="1142" font-size="20" textLength="90.5" lengthAdjust="spacingAndGlyphs">CKvsT36h</text>
<text class="m" x="515.3" y="1142" font-size="20" textLength="111.5" lengthAdjust="spacingAndGlyphs">T12hvsT36h</text>
<text class="m" x="640" y="1142" font-size="20" textLength="101.2" lengthAdjust="spacingAndGlyphs">CKvsHF24h</text>
<text class="m" x="753" y="1142" font-size="20" textLength="122.4" lengthAdjust="spacingAndGlyphs">T12hvsHF24h</text>
<text class="m" x="883.8" y="1142" font-size="20" textLength="123.2" lengthAdjust="spacingAndGlyphs">T36hvsHF24h</text>
<rect x="1038.7" y="1122.8" width="494.8" height="47.9" fill="url(#cb)"/>
<g fill="none" stroke="#111">
<path d="M1038.7,1120.5 H1533.5" stroke-width="2"/>
<path d="M1039.5,1112.3 V1120.5 M1109.9,1112.3 V1120.5 M1179.9,1112.3 V1120.5 M1250.7,1112.3 V1120.5 M1320.8,1112.3 V1120.5 M1391.6,1112.3 V1120.5 M1461.6,1112.3 V1120.5 M1532,1112.3 V1120.5" stroke-width="1.6"/>
</g>
<g class="t" font-size="28">
<text transform="translate(1053 1106) rotate(-90) scale(1 1.3)" textLength="40" lengthAdjust="spacingAndGlyphs">2.1</text>
<text transform="translate(1123.4 1106) rotate(-90) scale(1 1.3)" textLength="40" lengthAdjust="spacingAndGlyphs">1.8</text>
<text transform="translate(1193.4 1106) rotate(-90) scale(1 1.3)" textLength="40" lengthAdjust="spacingAndGlyphs">1.5</text>
<text transform="translate(1264.2 1106) rotate(-90) scale(1 1.3)" textLength="40" lengthAdjust="spacingAndGlyphs">1.2</text>
<text transform="translate(1334.3 1106) rotate(-90) scale(1 1.3)" textLength="40" lengthAdjust="spacingAndGlyphs">0.9</text>
<text transform="translate(1405.1 1106) rotate(-90) scale(1 1.3)" textLength="40" lengthAdjust="spacingAndGlyphs">0.6</text>
<text transform="translate(1475.1 1106) rotate(-90) scale(1 1.3)" textLength="40" lengthAdjust="spacingAndGlyphs">0.3</text>
<text transform="translate(1545.5 1106) rotate(-90) scale(1 1.3)" textLength="40" lengthAdjust="spacingAndGlyphs">0.0</text>
</g>
<path d="M1551.5,1064.7 V1173.4" stroke="#C9D3E6" stroke-width="0.8" fill="none"/>
</g>

</g>
</svg>
